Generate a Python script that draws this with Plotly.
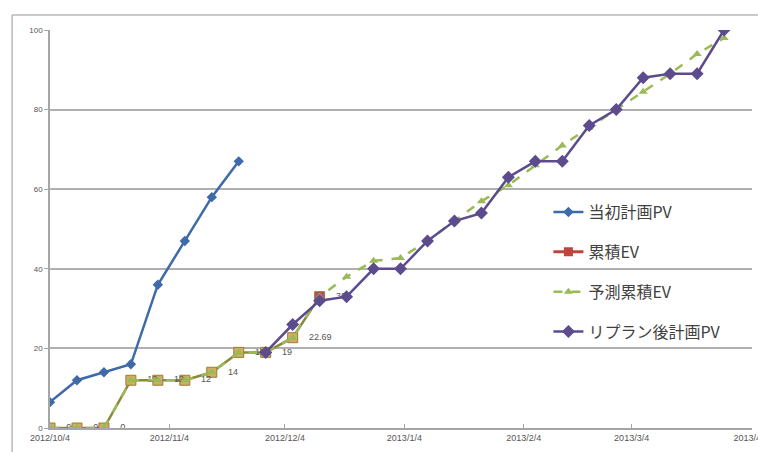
import plotly.graph_objects as go

# Weekly reporting dates
dates = ["2012-10-04", "2012-10-11", "2012-10-18", "2012-10-25", "2012-11-01",
         "2012-11-08", "2012-11-15", "2012-11-22", "2012-11-29", "2012-12-06",
         "2012-12-13", "2012-12-20", "2012-12-27", "2013-01-03", "2013-01-10",
         "2013-01-17", "2013-01-24", "2013-01-31", "2013-02-07", "2013-02-14",
         "2013-02-21", "2013-02-28", "2013-03-07", "2013-03-14", "2013-03-21",
         "2013-03-28"]

# 当初計画PV (original plan)
pv_initial = [6.5, 12, 14, 16, 36, 47, 58, 67]
# 累積EV (cumulative earned value)
ev = [0, 0, 0, 12, 12, 12, 14, 19, 19, 22.69, 33]
ev_labels = ["0", "0", "0", "12", "12", "12", "14", "19", "19", "22.69", "33"]
# 予測累積EV (forecast cumulative EV)
ev_forecast = [0, 0, 0, 12, 12, 12, 14, 19, 19, 22.69, 33, 38, 42, 42.7, 47,
               52, 57, 61, 66, 71, 75.5, 80, 84.5, 89, 94, 98]
# リプラン後計画PV (re-planned PV), starts at week 9
pv_replan = [19, 26, 32, 33, 40, 40, 47, 52, 54, 63, 67, 67, 76, 80, 88, 89, 89, 100]

names = ["当初計画PV", "累積EV", "予測累積EV", "リプラン後計画PV"]

BLUE = "#3f6aa9"
RED = "#c0433f"
GREEN = "#9aba55"
PURPLE = "#5c4c8e"
TAN = "#cfae62"

fig = go.Figure()

fig.add_trace(go.Scatter(
    x=dates[:len(pv_initial)], y=pv_initial, name=names[0], mode="lines+markers",
    line=dict(color=BLUE, width=2.5),
    marker=dict(symbol="diamond", size=8, color=BLUE),
    legendgroup="a"))

# legend entry for EV
fig.add_trace(go.Scatter(
    x=[None], y=[None], name=names[1], mode="lines+markers",
    line=dict(color=RED, width=3),
    marker=dict(symbol="square", size=9, color=RED),
    legendgroup="b"))

ev_colors = [TAN] * (len(ev) - 1) + ["#b0506a"]
fig.add_trace(go.Scatter(
    x=dates[:len(ev)], y=ev, name=names[1], mode="lines+markers+text",
    text=["\u2002\u2002" + t for t in ev_labels], textposition="middle right",
    textfont=dict(size=9, color="#555555", family="Liberation Sans"),
    line=dict(color="#8a8a3a", width=2.5),
    marker=dict(symbol="square", size=10, color=ev_colors,
                line=dict(color="#9c7c35", width=1)),
    showlegend=False, legendgroup="b"))

fig.add_trace(go.Scatter(
    x=dates, y=ev_forecast, name=names[2], mode="lines+markers",
    line=dict(color=GREEN, width=2.5, dash="dash"),
    marker=dict(symbol="triangle-up", size=8, color=GREEN),
    legendgroup="c"))

fig.add_trace(go.Scatter(
    x=dates[8:8 + len(pv_replan)], y=pv_replan, name=names[3], mode="lines+markers",
    line=dict(color=PURPLE, width=2.5),
    marker=dict(symbol="diamond", size=10, color=PURPLE),
    legendgroup="d"))

axis_font = dict(size=9, color="#555555", family="Liberation Sans")

fig.update_xaxes(
    type="date", range=["2012-10-04", "2013-04-04 06:00"],
    tick0="2012-10-04", dtick="M1", tickformat="%Y/%-m/%-d",
    tickfont=axis_font, showgrid=False, ticklabeloverflow="allow",
    automargin=False,
    showline=True, linecolor="#a6a6a6", linewidth=1.5,
    ticks="inside", ticklen=4, tickcolor="#a6a6a6")

fig.update_yaxes(
    range=[0, 100], dtick=20, tickfont=dict(size=8, color="#555555", family="Liberation Sans"),
    showgrid=True, gridcolor="#b0b0b0", gridwidth=1.5, automargin=False,
    showline=True, linecolor="#a6a6a6", linewidth=1.5,
    ticks="outside", ticklen=4, tickcolor="#a6a6a6", zeroline=False)

# chart-area frame (left and top edges)
fig.add_shape(type="line", xref="paper", yref="paper",
              x0=-0.054, x1=1.02, y0=1.038, y1=1.038,
              line=dict(color="#b8b8b8", width=1.5))
fig.add_shape(type="line", xref="paper", yref="paper",
              x0=-0.054, x1=-0.054, y0=-0.2, y1=1.038,
              line=dict(color="#b8b8b8", width=1.5))

fig.update_layout(
    width=758, height=452,
    margin=dict(l=50, r=6, t=30, b=24),
    plot_bgcolor="white", paper_bgcolor="white",
    legend=dict(x=0.71, y=0.585, xanchor="left", yanchor="top",
                bgcolor="rgba(0,0,0,0)", traceorder="grouped",
                tracegroupgap=16,
                font=dict(size=16, color="#404040", family="Noto Sans CJK JP")),
)

fig.write_html("out.html")
